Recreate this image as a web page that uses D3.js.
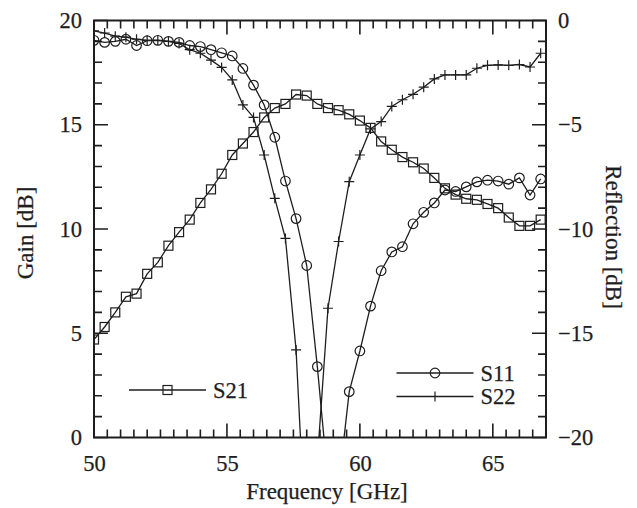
<!DOCTYPE html>
<html>
<head>
<meta charset="utf-8">
<script src="https://cdn.jsdelivr.net/npm/d3@7"></script>
<style>
  body { margin: 0; background: #fff; }
  text { font-family: "Liberation Serif", "Times New Roman", serif; fill: #1e1e1e;
         stroke: #1e1e1e; stroke-width: 0.25px; }
</style>
</head>
<body>
<div id="chart"></div>
<script>
// measured frequency points [GHz]
const freq = [50.0, 50.4, 50.8, 51.2, 51.6, 52.0, 52.4, 52.8, 53.2, 53.6,
              54.0, 54.4, 54.8, 55.2, 55.6, 56.0, 56.4, 56.8, 57.2, 57.6,
              58.0, 58.4, 58.8, 59.2, 59.6, 60.0, 60.4, 60.8, 61.2, 61.6,
              62.0, 62.4, 62.8, 63.2, 63.6, 64.0, 64.4, 64.8, 65.2, 65.6,
              66.0, 66.4, 66.8];

// gain [dB], left axis
const s21 = [4.7, 5.3, 6.0, 6.75, 6.9, 7.85, 8.4, 9.2, 9.85, 10.45,
             11.25, 11.9, 12.65, 13.55, 14.1, 14.65, 15.35, 15.8, 16.0, 16.45,
             16.4, 16.0, 15.8, 15.7, 15.5, 15.2, 14.85, 14.2, 13.8, 13.45,
             13.2, 12.9, 12.45, 11.95, 11.65, 11.45, 11.4, 11.2, 11.0, 10.55,
             10.15, 10.15, 10.45];

// reflection [dB], right axis
const s11 = [-0.95, -1.05, -1.0, -0.9, -1.2, -0.97, -0.95, -1.0, -1.05, -1.2,
             -1.25, -1.4, -1.55, -1.7, -2.3, -3.1, -4.05, -5.6, -7.7, -9.5,
             -11.75, -16.6, -22.1, -22.3, -17.8, -15.85, -13.7, -12.0, -11.1, -10.85,
             -9.75, -9.2, -8.75, -8.13, -8.2, -7.98, -7.74, -7.66, -7.7, -7.85,
             -7.55, -8.37, -7.6];

const s22 = [-0.5, -0.6, -0.75, -0.8, -0.9, -0.95, -0.95, -1.0, -1.1, -1.4,
             -1.57, -1.9, -2.25, -2.85, -4.05, -4.65, -6.45, -8.53, -10.45, -15.8,
             -26.0, -21.1, -13.8, -10.6, -7.73, -6.45, -5.2, -4.85, -4.12, -3.8,
             -3.54, -3.2, -2.8, -2.61, -2.61, -2.61, -2.29, -2.15, -2.13, -2.15,
             -2.11, -2.23, -1.57];

const xTicks = [50, 55, 60, 65];
const gainTicks = [0, 5, 10, 15, 20];
const reflTicks = [-20, -15, -10, -5, 0];

const W = 637, H = 508;
const margin = {top: 20.5, right: 91, bottom: 70.5, left: 94};
const width = W - margin.left - margin.right,
      height = H - margin.top - margin.bottom;
const ink = "#1e1e1e";
const fontSize = "22.5px";

const svg = d3.select("#chart").append("svg")
    .attr("width", W)
    .attr("height", H);

const g = svg.append("g")
    .attr("transform", `translate(${margin.left},${margin.top})`);

const x = d3.scaleLinear().domain([50, 67]).range([0, width]);
const yGain = d3.scaleLinear().domain([0, 20]).range([height, 0]);
const yRefl = d3.scaleLinear().domain([-20, 0]).range([height, 0]);

g.append("clipPath").attr("id", "plot-clip")
    .append("rect").attr("width", width).attr("height", height);

// tick labels through d3 axes (domain and tick lines hidden)
function labelsOnly(sel) {
    sel.select(".domain").remove();
    sel.selectAll("line").remove();
    sel.selectAll("text").style("font-size", fontSize).attr("fill", ink);
}
g.append("g").attr("transform", `translate(0,${height})`)
    .call(d3.axisBottom(x).tickValues(xTicks).tickSize(0).tickPadding(18).tickFormat(d3.format("d")))
    .call(labelsOnly);
g.append("g")
    .call(d3.axisLeft(yGain).tickValues(gainTicks).tickSize(0).tickPadding(12).tickFormat(d3.format("d")))
    .call(labelsOnly);
g.append("g").attr("transform", `translate(${width},0)`)
    .call(d3.axisRight(yRefl).tickValues(reflTicks).tickSize(0).tickPadding(12).tickFormat(d3.format("d")))
    .call(labelsOnly);

// frame
g.append("path")
    .attr("d", `M0,0H${width}V${height}H0Z`)
    .style("fill", "none")
    .style("stroke", ink)
    .style("stroke-width", 2);

// inward ticks on all four sides
const xMinor = d3.range(50, 67.01, 0.5);
const yMinor = d3.range(0, 20.01, 1);
const rMinor = d3.range(-20, 0.01, 1);
const major = 14, minor = 8;
let tickPath = "";
xMinor.forEach(v => {
    const len = xTicks.includes(v) ? major : minor;
    const px = x(v);
    tickPath += `M${px},${height}V${height - len}M${px},0V${len}`;
});
yMinor.forEach(v => {
    const len = gainTicks.includes(v) ? major : minor;
    tickPath += `M0,${yGain(v)}H${len}`;
});
rMinor.forEach(v => {
    const len = reflTicks.includes(v) ? major : minor;
    tickPath += `M${width},${yRefl(v)}H${width - len}`;
});
g.append("path")
    .attr("class", "ticks")
    .attr("d", tickPath)
    .style("fill", "none")
    .style("stroke", ink)
    .style("stroke-width", 1.6);

// series
const plot = g.append("g").attr("clip-path", "url(#plot-clip)");

const series = [
    {name: "S21", vals: s21, y: yGain, marker: "square"},
    {name: "S11", vals: s11, y: yRefl, marker: "circle"},
    {name: "S22", vals: s22, y: yRefl, marker: "plus"}
];

function drawMarker(sel, type) {
    if (type === "square") {
        sel.append("rect").attr("x", -4.5).attr("y", -4.5)
            .attr("width", 9).attr("height", 9);
    } else if (type === "circle") {
        sel.append("circle").attr("r", 4.8);
    } else {
        sel.append("path").attr("d", "M-5,0H5M0,-5V5");
    }
    sel.attr("fill", "none").attr("stroke", ink).attr("stroke-width", 1.2);
}

series.forEach(s => {
    const pts = freq.map((f, i) => [f, s.vals[i]]);
    const line = d3.line()
        .x(d => x(d[0]))
        .y(d => s.y(d[1]));
    plot.append("path")
        .datum(pts)
        .attr("d", line)
        .attr("fill", "none")
        .attr("stroke", ink)
        .attr("stroke-width", 1.3);
    plot.selectAll(null)
        .data(pts.filter(d => s.y(d[1]) <= height + 6))
        .enter()
        .append("g")
        .attr("transform", d => `translate(${x(d[0])},${s.y(d[1])})`)
        .each(function () { drawMarker(d3.select(this), s.marker); });
});

// legend
const legendItems = [
    {name: "S21", marker: "square", x0: 35, y0: 369.5},
    {name: "S11", marker: "circle", x0: 302.5, y0: 352.5},
    {name: "S22", marker: "plus", x0: 302.5, y0: 376}
];
legendItems.forEach(d => {
    const lg = g.append("g").attr("transform", `translate(${d.x0},${d.y0})`);
    lg.append("line").attr("x1", 0).attr("x2", 77)
        .attr("stroke", ink).attr("stroke-width", 1.3);
    const m = lg.append("g").attr("transform", "translate(38.5,0)");
    drawMarker(m, d.marker);
    lg.append("text")
        .attr("x", 84)
        .attr("y", 7.5)
        .style("font-size", fontSize)
        .text(d.name);
});

// axis titles
svg.append("text")
    .attr("transform", `translate(33,${margin.top + height / 2 + 4}) rotate(-90)`)
    .attr("text-anchor", "middle")
    .style("font-size", "23px")
    .text("Gain [dB]");

svg.append("text")
    .attr("transform", `translate(606,${margin.top + height / 2 + 8}) rotate(90)`)
    .attr("text-anchor", "middle")
    .style("font-size", "23px")
    .text("Reflection [dB]");

svg.append("text")
    .attr("x", 327)
    .attr("y", 499)
    .attr("text-anchor", "middle")
    .style("font-size", "23px")
    .text("Frequency [GHz]");
</script>
</body>
</html>
